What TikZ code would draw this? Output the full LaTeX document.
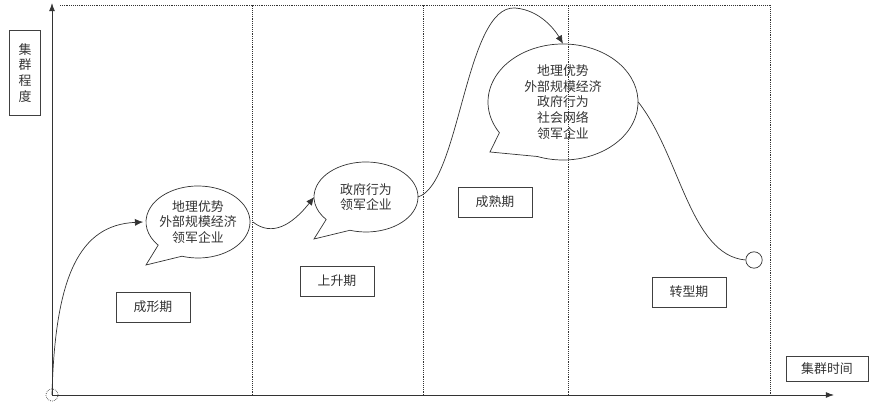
\documentclass[tikz,border=0pt]{standalone}
\usepackage{fontspec}
\setmainfont{Noto Sans CJK SC}
\usetikzlibrary{calc,arrows.meta,shapes.geometric}

\tikzset{
  stagebox/.style={draw,semithick,black!75,text=black!80,minimum width=63pt,minimum height=25.5pt,inner sep=0pt},
  bubbletext/.style={align=center,text=black!80,inner sep=0pt,font=\fontsize{11}{13.5}\selectfont},
  curve/.style={semithick,black!80,-{Latex[length=7pt,width=6pt]}},
  frame/.style={densely dotted,semithick,black!80}
}
% speech bubble: centre, x radius, y radius, start angle, end angle, tip
\newcommand{\speechbubble}[6]{
  \draw[semithick,black!80] (#6) -- ($(#1)+(#4:#2 and #3)$) arc[start angle=#4,end angle=#5,x radius=#2,y radius=#3] -- cycle;
}

\begin{document}
\begin{tikzpicture}[x=0.03cm,y=0.03cm,font=\fontsize{11}{13.5}\selectfont]
\useasboundingbox (0,0) rectangle (879,405);
% frame and stages
\draw[frame] (60,400) -- (770,400) -- (770,10);
\foreach \x in {252,423,568}
  \draw[frame] (\x,10) -- (\x,400);
% axes
\coordinate (o) at (52,10);
\draw[semithick,black!80,-{Latex[length=7pt,width=5pt]}] (o) -- (52,402);
\draw[semithick,black!80,-{Latex[length=7pt,width=5pt]}] (o) -- (834,10);
\draw[semithick,black!80,densely dotted] (o) circle (6);
\node[stagebox,minimum width=26pt,minimum height=72pt,align=center] (ylab) at (25,332) {集\\群\\程\\度};
\node[stagebox,minimum width=70pt,minimum height=21pt] (xlab) at (827,36) {集群时间};

\node[stagebox] (s1) at (153,98) {成形期};
\node[stagebox] (s2) at (337,124) {上升期};
\node[stagebox] (s3) at (495,203) {成熟期};
\node[stagebox] (s4) at (689,113) {转型期};

% bubbles
\node[bubbletext,ellipse,minimum width=88pt,minimum height=61pt] (b1) at (198,183) {地理优势\\外部规模经济\\领军企业};
\node[bubbletext,ellipse,minimum width=88pt,minimum height=60pt] (b2) at (366,208) {政府行为\\领军企业};
\node[bubbletext,ellipse,minimum width=128pt,minimum height=99pt] (b3) at (563,303) {地理优势\\外部规模经济\\政府行为\\社会网络\\领军企业};
\coordinate (t1) at (146,140);
\coordinate (t2) at (314,166);
\coordinate (t3) at (490,253);
\speechbubble{b1.center}{52}{36}{252}{580}{t1}
\speechbubble{b2.center}{52}{35}{252}{580}{t2}
\speechbubble{b3.center}{75}{58}{250}{572}{t3}
\node[draw,semithick,black!80,circle,minimum size=14pt,inner sep=0pt] (end) at (754,145) {};

% growth curve
\draw[curve] (o) .. controls (55,130) and (80,180) .. (b1.west);
\draw[curve] (b1.east) .. controls (272,168) and (292,180) .. (b2.west);
\draw[curve] (b2.east) .. controls (460,220) and (465,400) .. (515,397)
  .. controls (540,395) and (555,375) .. (b3.north);
\draw[semithick,black!80] (b3.east) .. controls (680,250) and (690,150) .. (end.west);
\end{tikzpicture}
\end{document}
